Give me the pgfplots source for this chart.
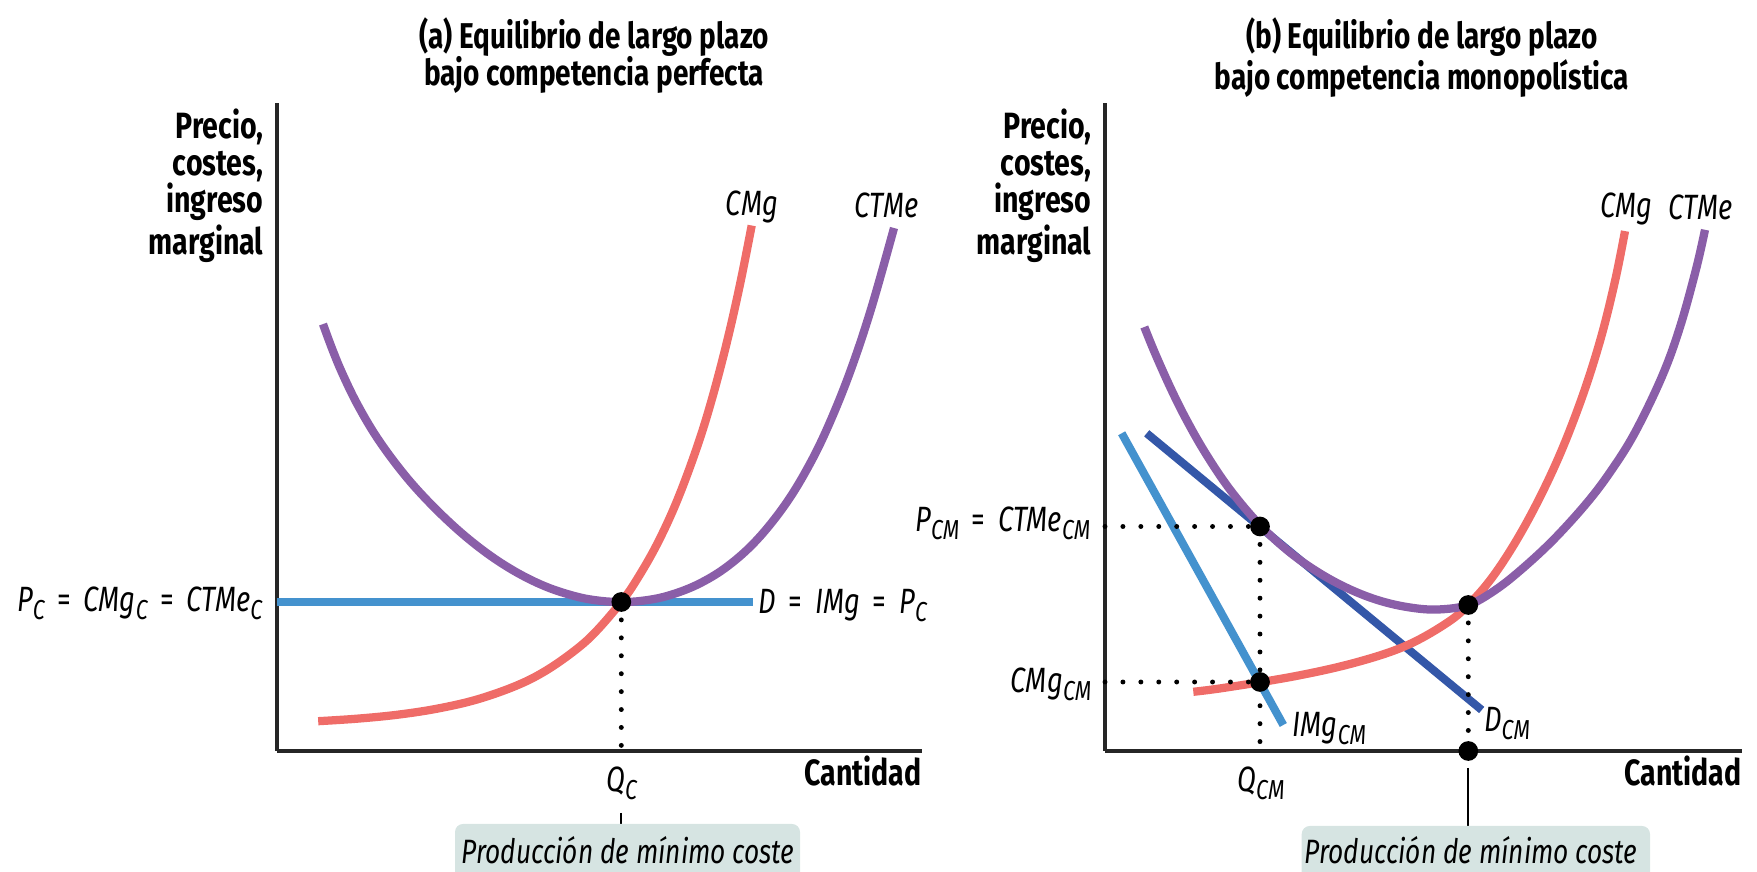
\documentclass[border=0pt]{standalone}
\usepackage{fontspec}
\setmainfont{Fira Sans}[FakeStretch=0.78]
\usepackage{pgfplots}
\pgfplotsset{compat=1.18}

\definecolor{cmgcol}{RGB}{239,108,104}
\definecolor{ctmecol}{RGB}{138,94,168}
\definecolor{lblue}{RGB}{68,146,206}
\definecolor{dblue}{RGB}{52,87,168}
\definecolor{boxcol}{RGB}{214,228,226}

\newcommand{\sbs}[1]{\raisebox{-2.2pt}{\fontsize{7.8}{7.8}\selectfont #1}}
\newcommand{\eq}{\hspace{0.36em}{\upshape=}\hspace{0.36em}}

\pgfplotsset{econ/.style={
  scale only axis, clip=false, axis lines=left,
  axis line style={-, line width=0.9pt, black!85},
  xtick=\empty, ytick=\empty, xmin=0, ymin=0, ymax=64.8, height=64.8mm,
  anchor=origin},
  curve/.style={line width=2.35pt, smooth, tension=0.6},
  dots/.style={black, line width=1.4pt, dash pattern=on 0pt off 5.1pt, line cap=round},
  bigdot/.style={only marks, mark=*, mark size=2.6pt, black, mark options={fill=black}},
}
\tikzset{
  ttl/.style={anchor=north, align=center, inner sep=0pt, font=\bfseries\fontsize{10.2}{10.6}\selectfont},
  ylab/.style={anchor=north east, align=right, inner sep=0pt, font=\bfseries\fontsize{10.4}{10.6}\selectfont},
  it/.style={inner sep=0pt, font=\itshape\fontsize{10}{10}\selectfont},
  bf/.style={inner sep=0pt, font=\bfseries\fontsize{10.4}{10.6}\selectfont},
  boxtxt/.style={inner sep=0pt, font=\itshape\fontsize{9.6}{10}\selectfont},
}

\begin{document}
\begin{tikzpicture}
\useasboundingbox (0,0) rectangle (175.7mm,87.2mm);

% ---------------- panel (a)
\begin{axis}[econ, at={(27.7mm,12.1mm)}, xmax=64.5, width=64.5mm]
\addplot[lblue, line width=2.4pt] coordinates {(0,14.9) (47.6,14.9)};
\addplot[cmgcol, curve] coordinates {
(4.12,2.98) (8,3.23) (12,3.62) (16,4.23) (20,5.15) (24,6.56) (27,8.10)
(30,10.22) (32,12.06) (34.43,14.9) (36,17.17) (38,20.67) (40,25.01)
(42,30.38) (43.5,35.22) (45,40.93) (46.3,46.66) (47.47,52.55)};
\addplot[ctmecol, curve] coordinates {
(4.6,42.69) (5.5,40.25) (6.5,37.83) (8,34.73) (10,31.34) (12.5,27.93)
(15,25.09) (18,22.19) (21,19.77) (24,17.84) (27,16.39) (30,15.43)
(32.3,15.02) (34.43,14.9) (36.5,15.02) (39,15.50) (42,16.62) (45,18.43)
(48,21.12) (51,24.90) (53.5,29.11) (55.5,33.36) (57.5,38.44) (59.5,44.51) (61.7,52.30)};
\addplot[dots] coordinates {(34.43,14.9) (34.43,0)};
\addplot[bigdot] coordinates {(34.43,14.9)};

\node[ttl] at (axis cs:31.7,73.4) {(a) Equilibrio de largo plazo\\bajo competencia perfecta};
\node[ylab] at (axis cs:-1.3,64.3) {Precio,\\costes,\\ingreso\\marginal};
\node[it, anchor=base] at (axis cs:47.5,53.5) {CMg};
\node[it, anchor=base west] at (axis cs:57.7,53.3) {CTMe};
\node[it, anchor=base west] at (axis cs:48.1,13.7) {D\eq IMg\eq P\sbs{C}};
\node[it, anchor=base east] at (axis cs:-1.4,13.9) {P\sbs{C}\eq CMg\sbs{C}\eq CTMe\sbs{C}};
\node[it, anchor=base] at (axis cs:34.47,-4.1) {Q\sbs{C}};
\node[bf, anchor=base east] at (axis cs:64.5,-3.5) {Cantidad};
\draw[black, line width=0.6pt] (axis cs:34.43,-6.2) -- (axis cs:34.43,-7.3);
\fill[boxcol, rounded corners=0.8mm] (axis cs:17.8,-7.3) rectangle (axis cs:52.3,-15);
\node[boxtxt] at (axis cs:35.1,-9.9) {Producción de mínimo coste};
\end{axis}

% ---------------- panel (b)
\begin{axis}[econ, at={(110.5mm,12.1mm)}, xmax=63.7, width=63.7mm]
\addplot[lblue, line width=2.3pt] coordinates {(1.67,31.77) (17.83,2.6)};
\addplot[dblue, line width=2.3pt] coordinates {(4.17,31.77) (37.67,4.1)};
\addplot[cmgcol, curve] coordinates {
(8.83,5.92) (12,6.33) (19,7.48) (25,8.83) (30,10.48) (34,12.68) (36.33,14.6)
(39,17.74) (42,22.54) (45,28.54) (47.5,34.79) (49.5,40.99) (51,46.99) (52,51.99)};
\addplot[ctmecol, curve] coordinates {
(3.93,42.40) (5,39.78) (6.5,36.42) (8,33.39) (10,29.86) (12.5,26.14)
(15.5,22.59) (18.5,19.85) (21.5,17.76) (24.5,16.16) (27.5,15.02) (30.5,14.35)
(33.3,14.15) (36.33,14.6) (38.9,16.01) (41.5,18.03) (44.8,21.08) (48.17,24.79)
(50.6,28.01) (53,31.85) (55.7,37.45) (57.5,42.4) (59.1,48.16) (60,52.12)};
\addplot[dots] coordinates {(0,22.45) (15.5,22.45)};
\addplot[dots] coordinates {(0,6.9) (15.5,6.9)};
\addplot[dots] coordinates {(15.5,22.45) (15.5,0)};
\addplot[dots] coordinates {(36.33,14.6) (36.33,0)};
\addplot[bigdot] coordinates {(15.5,22.45) (15.5,6.9) (36.33,14.6) (36.33,0)};

\node[ttl] at (axis cs:31.7,73.4) {(b) Equilibrio de largo plazo\\bajo competencia monopolística};
\node[ylab] at (axis cs:-1.3,64.3) {Precio,\\costes,\\ingreso\\marginal};
\node[it, anchor=base west] at (axis cs:49.5,53.3) {CMg};
\node[it, anchor=base west] at (axis cs:56.3,53.1) {CTMe};
\node[it, anchor=base east] at (axis cs:-1.4,21.9) {P\sbs{CM}\eq CTMe\sbs{CM}};
\node[it, anchor=base east] at (axis cs:-1.3,5.8) {CMg\sbs{CM}};
\node[it, anchor=base west] at (axis cs:18.7,1.45) {IMg\sbs{CM}};
\node[it, anchor=base west] at (axis cs:37.85,1.95) {D\sbs{CM}};
\node[it, anchor=base] at (axis cs:15.6,-4.1) {Q\sbs{CM}};
\node[bf, anchor=base east] at (axis cs:63.7,-3.5) {Cantidad};
\draw[black, line width=0.6pt] (axis cs:36.33,-1.7) -- (axis cs:36.33,-7.5);
\fill[boxcol, rounded corners=0.8mm] (axis cs:19.67,-7.5) rectangle (axis cs:54.5,-15);
\node[boxtxt] at (axis cs:36.6,-9.9) {Producción de mínimo coste};
\end{axis}
\end{tikzpicture}
\end{document}
